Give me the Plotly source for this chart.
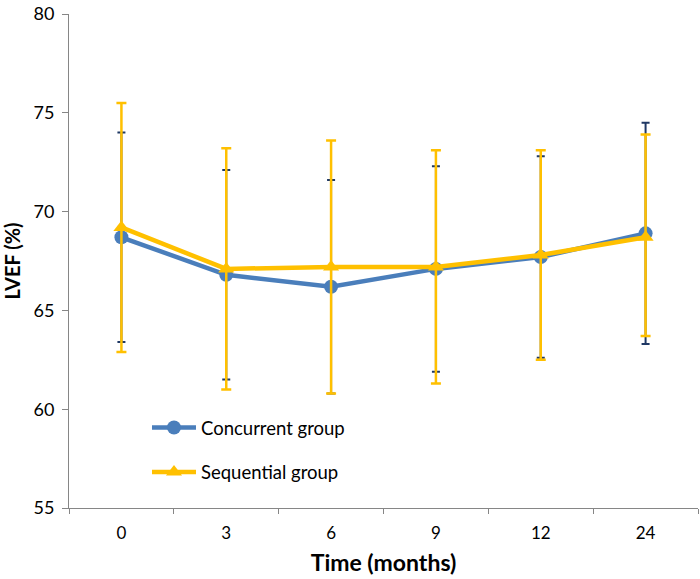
import plotly.graph_objects as go

months = ["0", "3", "6", "9", "12", "24"]

concurrent_mean = [68.7, 66.8, 66.2, 67.1, 67.7, 68.9]
concurrent_upper = [74.0, 72.1, 71.6, 72.3, 72.8, 74.5]
concurrent_lower = [63.4, 61.5, 60.8, 61.9, 62.6, 63.3]

sequential_mean = [69.2, 67.1, 67.2, 67.2, 67.8, 68.7]
sequential_upper = [75.5, 73.2, 73.6, 73.1, 73.1, 73.9]
sequential_lower = [62.9, 61.0, 60.8, 61.3, 62.5, 63.7]

font_family = "Lato, 'Open Sans', sans-serif"

def plus(m, u):
    return [a - b for a, b in zip(u, m)]

def minus(m, l):
    return [a - b for a, b in zip(m, l)]

fig = go.Figure()
fig.add_trace(go.Scatter(
    x=months, y=concurrent_mean, mode="lines+markers", name="Concurrent group",
    line=dict(color="#4A7EBB", width=4.5),
    marker=dict(symbol="circle", size=14, color="#4A7EBB"),
    error_y=dict(type="data", array=plus(concurrent_mean, concurrent_upper),
                 arrayminus=minus(concurrent_mean, concurrent_lower),
                 color="#1F3864", thickness=2, width=4),
    legend="legend",
))
fig.add_trace(go.Scatter(
    x=months, y=sequential_mean, mode="lines+markers", name="Sequential group",
    line=dict(color="#FFC000", width=4.5),
    marker=dict(symbol="triangle-up", size=14, color="#FFC000"),
    error_y=dict(type="data", array=plus(sequential_mean, sequential_upper),
                 arrayminus=minus(sequential_mean, sequential_lower),
                 color="#FFC000", thickness=2.5, width=5),
    legend="legend2",
))

legend_common = dict(
    font=dict(family=font_family, size=18.5, color="#000000"),
    bgcolor="rgba(0,0,0,0)", itemwidth=44, xanchor="left", yanchor="middle",
)

fig.update_layout(
    width=700, height=579,
    margin=dict(l=69, r=2, t=8, b=71),
    plot_bgcolor="white", paper_bgcolor="white",
    showlegend=True,
    font=dict(family=font_family, size=17, color="#000000"),
    legend=dict(x=0.124, y=0.162, **legend_common),
    legend2=dict(x=0.124, y=0.072, **legend_common),
    xaxis=dict(
        title=dict(text="<b>Time (months)</b>", font=dict(size=23), standoff=12),
        range=[-0.5, 5.5],
        showline=True, linecolor="#868686", linewidth=1,
        ticks="outside", tickson="boundaries", ticklen=5, tickcolor="#868686",
        showgrid=False, zeroline=False,
        tickfont=dict(size=17), ticklabelstandoff=10,
    ),
    yaxis=dict(
        title=dict(text="<b>LVEF (%)</b>", font=dict(size=20), standoff=14),
        range=[55, 80], dtick=5, tick0=55,
        showline=True, linecolor="#868686", linewidth=1,
        ticks="outside", ticklen=6, tickcolor="#868686",
        showgrid=False, zeroline=False,
        tickfont=dict(size=18), ticklabeloverflow="allow", ticklabelstandoff=4,
    ),
)

fig.write_html("out.html", config={"displayModeBar": False},
               post_script="document.body.style.margin='0';")
